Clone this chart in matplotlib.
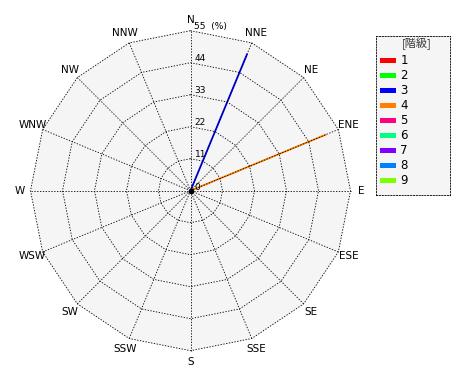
import numpy as np
import matplotlib
matplotlib.use('Agg')
import matplotlib.pyplot as plt

# 風向 (16方位)
directions = ['N', 'NNE', 'NE', 'ENE', 'E', 'ESE', 'SE', 'SSE',
              'S', 'SSW', 'SW', 'WSW', 'W', 'WNW', 'NW', 'NNW']
rings = [11, 22, 33, 44, 55]
classes = ['1', '2', '3', '4', '5', '6', '7', '8', '9']
colors = ['#ff0000', '#00ff00', '#0000ff', '#ff8000', '#ff0080',
          '#00ff80', '#8000ff', '#0080ff', '#80ff00']

# 階級ごとの出現率 (%)、方位順
class_1 = [0, 0, 0, 0, 0, 0, 0, 0, 0, 0, 0, 0, 0, 0, 0, 0]
class_2 = [0, 0, 0, 0, 0, 0, 0, 0, 0, 0, 0, 0, 0, 0, 0, 0]
class_3 = [0, 51, 0, 0, 0, 0, 0, 0, 0, 0, 0, 0, 0, 0, 0, 0]
class_4 = [0, 0, 0, 50.5, 0, 0, 0, 0, 0, 0, 0, 0, 0, 0, 0, 0]
class_5 = [0, 0, 0, 0, 0, 0, 0, 0, 0, 0, 0, 0, 0, 0, 0, 0]
class_6 = [0, 0, 0, 0, 0, 0, 0, 0, 0, 0, 0, 0, 0, 0, 0, 0]
class_7 = [0, 0, 0, 0, 0, 0, 0, 0, 0, 0, 0, 0, 0, 0, 0, 0]
class_8 = [0, 0, 0, 0, 0, 0, 0, 0, 0, 0, 0, 0, 0, 0, 0, 0]
class_9 = [0, 0, 0, 0, 0, 0, 0, 0, 0, 0, 0, 0, 0, 0, 0, 0]
class_values = [class_1, class_2, class_3, class_4, class_5,
                class_6, class_7, class_8, class_9]

W, H = 470, 380
cx, cy = 190.5, 190.7          # 中心 (px, 上から)
r_px = 160.0                   # 外周の半径 (px)
rmax = rings[-1]
u = rmax / r_px                # 1px あたりの値

fig = plt.figure(figsize=(W / 100, H / 100), dpi=100)
ax = fig.add_axes([0, 0, 1, 1])
ax.set_xlim(-cx * u, (W - cx) * u)
ax.set_ylim(-(H - cy) * u, cy * u)
ax.axis('off')

theta = np.deg2rad(np.arange(len(directions)) * 360.0 / len(directions))
sx, sy = np.sin(theta), np.cos(theta)
dot = dict(color='black', lw=0.6, linestyle=(0, (1.6, 1.8)), zorder=3)

# 背景の多角形
px = np.append(sx, sx[0]) * rmax
py = np.append(sy, sy[0]) * rmax
ax.fill(px, py, color='#f5f5f5', zorder=0)

# データ (積み上げの線)
cum = np.zeros(len(directions))
for vals, col in zip(class_values, colors):
    vals = np.array(vals, dtype=float)
    for i in range(len(directions)):
        if vals[i] > 0:
            ax.plot([cum[i] * sx[i], (cum[i] + vals[i]) * sx[i]],
                    [cum[i] * sy[i], (cum[i] + vals[i]) * sy[i]],
                    color=col, lw=1.3, solid_capstyle='butt', zorder=2)
    cum += vals

# グリッド
for r in rings:
    ax.plot(px / rmax * r, py / rmax * r, **dot)
for i in range(len(directions)):
    ax.plot([0, rmax * sx[i]], [0, rmax * sy[i]], **dot)
ax.plot([0], [0], 'o', color='black', ms=3, zorder=4)

# 方位ラベル
for i, d in enumerate(directions):
    rl = 171 * u
    ax.text(rl * sx[i], rl * sy[i], d, ha='center', va='center',
            fontsize=7.5, family='DejaVu Sans')

# 目盛ラベル
for r in rings:
    lab = str(r) if r != rmax else str(r) + '  (%)'
    ax.text(4 * u, r + 4 * u, lab, ha='left', va='center', fontsize=6.5,
            family=['DejaVu Sans'])
ax.text(4 * u, 3 * u, '0', ha='left', va='center', fontsize=6.5)

# 凡例
lx, ly, lw_, lh = 375.7, 35.7, 74.6, 159.6
lax = fig.add_axes([lx / W, 1 - (ly + lh) / H, lw_ / W, lh / H])
lax.set_xlim(0, lw_)
lax.set_ylim(lh, 0)
lax.set_xticks([])
lax.set_yticks([])
lax.set_facecolor('#f5f5f5')
for sp in lax.spines.values():
    sp.set_linestyle((0, (1.6, 1.8)))
    sp.set_linewidth(0.6)
lax.text(41, 7.5, '[階級]', ha='center', va='center', fontsize=8,
         family=['Noto Sans CJK JP', 'DejaVu Sans'], color='#333333')
for k, (lab, col) in enumerate(zip(classes, colors)):
    yy = 24.3 + 15 * k
    lax.add_patch(plt.Rectangle((4.3, yy - 2.5), 16, 5, color=col, lw=0))
    lax.text(24.5, yy, lab, ha='left', va='center', fontsize=8.5)

fig.savefig('out.png', dpi=100)
